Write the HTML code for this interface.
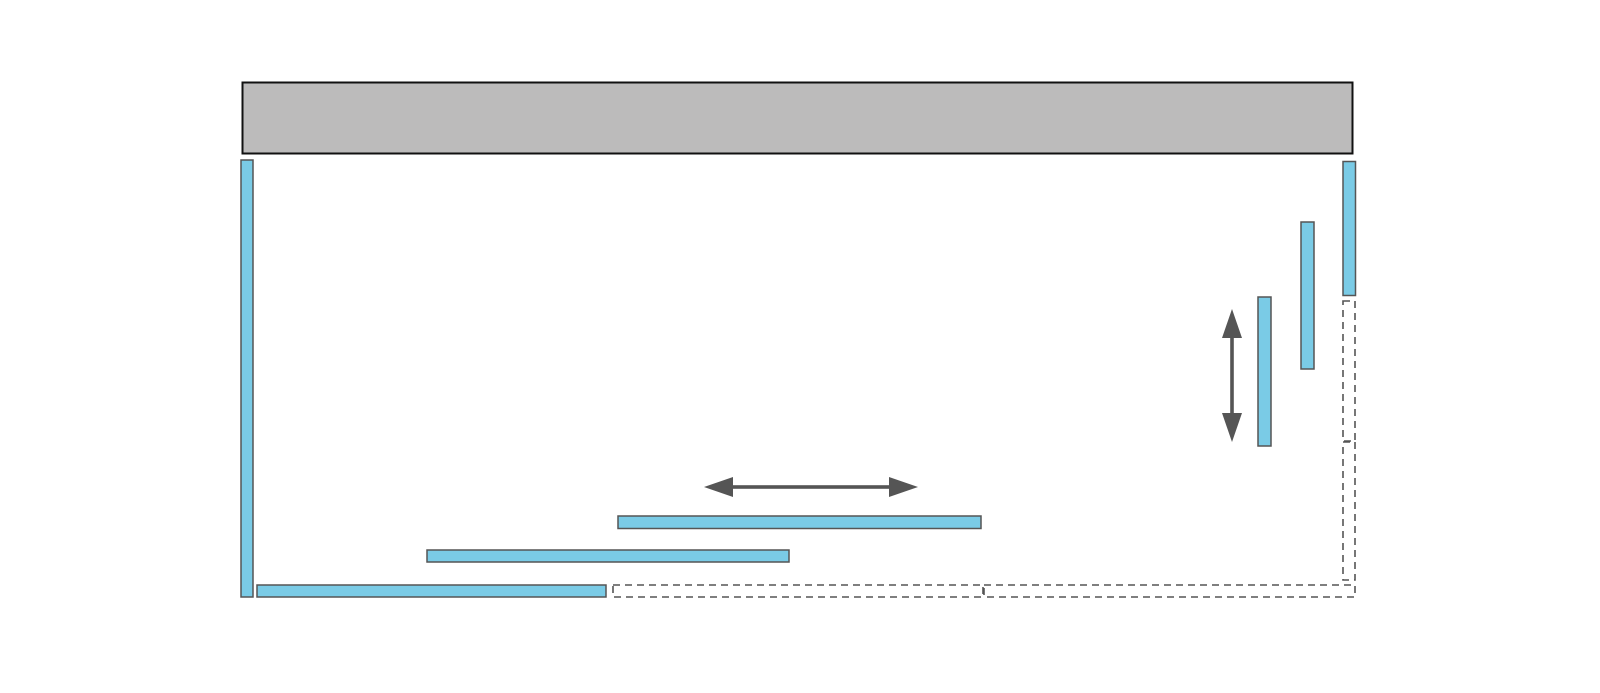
<!DOCTYPE html>
<html>
<head>
<meta charset="utf-8">
<style>
html,body{margin:0;padding:0;background:#fff;}
svg{display:block;}
</style>
</head>
<body>
<svg width="1600" height="693" viewBox="0 0 1600 693" xmlns="http://www.w3.org/2000/svg">
  <rect x="0" y="0" width="1600" height="693" fill="#ffffff"/>
  <!-- gray header -->
  <rect x="242.5" y="82.5" width="1110" height="71" fill="#bcbbbb" stroke="#111" stroke-width="2"/>

  <!-- dashed placeholders -->
  <g fill="none" stroke="#555" stroke-width="1.6" stroke-dasharray="7,5">
    <rect x="613" y="585" width="370" height="12"/>
    <rect x="984" y="585" width="371" height="12"/>
    <rect x="1343" y="301" width="12" height="140"/>
    <rect x="1343" y="442" width="12" height="138"/>
  </g>

  <!-- blue panels -->
  <g fill="#7acbe6" stroke="#555" stroke-width="1.5">
    <rect x="241" y="160" width="12" height="437"/>
    <rect x="257" y="585" width="349" height="12"/>
    <rect x="427" y="550" width="362" height="12"/>
    <rect x="618" y="516" width="363" height="12.5"/>
    <rect x="1343" y="161.5" width="12.5" height="134"/>
    <rect x="1301" y="222" width="13" height="147"/>
    <rect x="1258" y="297" width="13" height="149"/>
  </g>

  <!-- horizontal arrow -->
  <g fill="#555" stroke="none">
    <rect x="730" y="485.2" width="162" height="3.6"/>
    <polygon points="704,487 733,477 733,497"/>
    <polygon points="918,487 889,477 889,497"/>
  </g>
  <!-- vertical arrow -->
  <g fill="#555" stroke="none">
    <rect x="1230.2" y="335" width="3.6" height="80"/>
    <polygon points="1232,309 1222,338 1242,338"/>
    <polygon points="1232,442 1222,413 1242,413"/>
  </g>
</svg>
</body>
</html>
